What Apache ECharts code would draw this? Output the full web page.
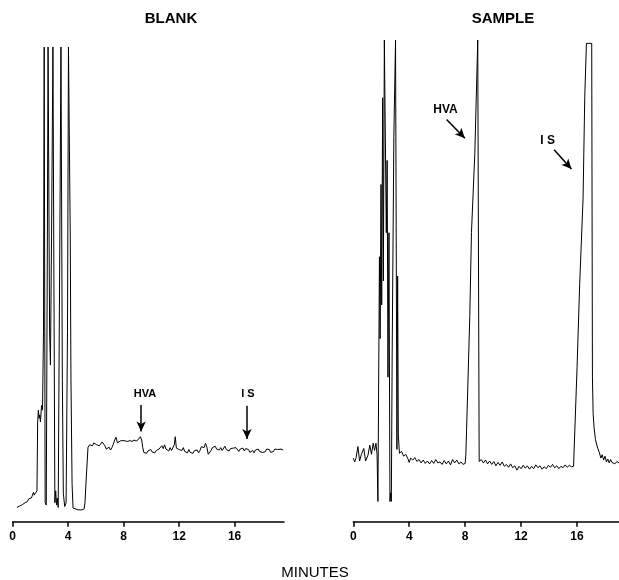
<!DOCTYPE html>
<html>
<head>
<meta charset="utf-8">
<script src="https://cdn.jsdelivr.net/npm/echarts@6/dist/echarts.min.js"></script>
<style>
html,body{margin:0;padding:0;background:#fff;}
#chart{width:619px;height:580px;}
</style>
</head>
<body>
<div id="chart"></div>
<script>
// ---- data ----
const panelTitles = ['BLANK', 'SAMPLE'];
const axisName = 'MINUTES';
const tickValues = [0, 4, 8, 12, 16];

const blankMinutes = [
  0.3,0.5,0.7,0.9,1.05,1.15,1.25,1.35,1.45,1.5,1.55,1.65,1.75,
  1.8,1.85,1.9,1.95,2.0,2.08,2.15,2.22,2.27,2.3,2.34,2.42,2.5,2.55,2.6,2.66,2.72,2.8,2.9,2.98,
  3.04,3.1,3.16,3.22,3.28,3.4,3.48,3.53,3.58,3.65,3.75,3.85,3.95,4.02,4.1,4.15,4.2,4.28,4.35,4.45,
  4.7,5.0,5.15,5.21,5.3,5.43,
  5.55,5.65,5.75,5.85,5.95,6.05,6.15,6.25,6.35,6.45,6.55,6.65,6.75,6.85,6.95,7.05,7.15,7.25,7.35,7.45,
  7.55,7.65,7.75,7.85,7.95,8.05,8.15,8.3,8.45,8.6,8.75,8.9,9.05,9.2,9.3,9.38,9.45,9.55,9.65,9.75,
  9.85,9.95,10.05,10.15,10.25,10.35,10.45,10.55,10.65,10.75,10.85,10.95,11.05,11.15,11.25,11.35,
  11.45,11.55,11.65,11.72,11.8,11.9,12.0,12.1,12.2,12.3,12.4,12.5,12.6,12.7,12.8,12.9,13.0,13.1,
  13.2,13.3,13.4,13.5,13.6,13.7,13.8,13.9,14.0,14.1,14.2,14.3,14.4,14.5,14.6,14.7,14.8,14.9,15.0,
  15.1,15.2,15.3,15.4,15.5,15.6,15.7,15.8,15.9,16.0,16.1,16.2,16.3,16.4,16.5,16.6,16.7,16.8,16.9,
  17.0,17.1,17.2,17.3,17.4,17.5,17.6,17.7,17.8,17.9,18.0,18.1,18.2,18.3,18.4,18.5,18.6,18.7,18.8,
  18.9,19.0,19.1,19.2,19.35,19.5
];
const blankSignal = [
  3.0,3.3,3.6,4.0,4.2,4.8,4.5,5.0,5.4,6.2,5.6,5.8,6.5,
  21,23.5,21.8,22.5,21.0,24.5,23.5,40,100,100,4,3.5,60,100,100,40,33,60,100,100,
  4,6.5,3.5,5,3,60,100,100,30,6,3.2,4,40,100,100,60,30,8,2.9,2.6,
  2.5,2.5,2.7,4,9,15.7,
  16.2,16.4,16.0,16.6,16.9,16.2,16.5,16.0,16.3,16.8,16.4,16.0,15.3,15.2,15.7,15.1,15.6,16.3,17.2,17.8,
  16.6,16.9,17.0,16.8,17.1,16.8,17.0,16.9,17.1,16.9,17.2,17.0,17.3,17.9,17.2,15.6,14.6,15.0,14.4,14.9,
  14.6,15.2,14.7,15.1,14.5,15.0,14.8,15.3,14.9,16.0,15.4,16.2,15.3,15.5,14.9,15.6,
  15.0,15.4,16.2,17.9,15.5,15.8,15.2,15.4,15.0,15.6,14.8,15.1,14.5,15.2,14.6,14.9,14.4,15.0,
  14.7,15.1,14.5,15.0,15.8,16.2,15.6,16.5,15.7,14.2,14.0,15.0,15.6,15.2,15.9,15.3,15.7,15.1,15.6,
  15.0,15.4,15.9,15.2,15.6,14.9,15.4,15.0,15.5,15.1,15.6,15.2,14.8,15.3,15.0,15.5,14.9,15.4,15.7,
  15.2,14.6,14.2,15.0,14.5,15.1,14.7,15.3,14.8,15.2,14.6,15.0,14.7,15.3,14.9,15.2,14.6,15.0,14.8,
  15.3,14.9,15.2,15.0,15.3,15.1
];

const sampleMinutes = [
  0,0.1,0.2,0.33,0.45,0.58,0.75,0.88,1.05,1.18,1.3,1.42,1.52,1.62,1.7,
  1.76,1.8,1.87,1.92,1.98,2.03,2.1,2.15,2.22,2.3,2.36,2.42,2.48,2.55,2.62,2.68,2.72,2.78,2.9,3.02,3.08,3.12,3.17,3.22,
  3.3,3.45,3.6,3.75,3.9,4.0,4.1,4.25,4.4,4.55,4.7,4.85,5.0,5.15,5.3,5.45,5.6,5.75,5.9,6.05,6.2,6.35,6.5,
  6.65,6.8,6.95,7.1,7.25,7.4,7.55,7.7,7.85,8.0,
  8.05,8.1,8.33,8.45,8.69,8.9,8.95,9.0,
  9.15,9.3,9.45,9.6,9.75,9.9,10.05,10.2,10.35,10.5,10.65,10.8,10.95,11.1,11.25,11.4,11.55,11.7,11.85,
  12.0,12.15,12.3,12.45,12.6,12.75,12.9,13.05,13.2,13.35,13.5,13.65,13.8,13.95,14.1,14.25,14.4,14.55,
  14.7,14.85,15.0,15.15,15.3,15.45,15.6,15.75,
  16.0,16.19,16.43,16.55,16.67,17.05,17.1,17.15,17.22,17.32,17.45,17.6,
  17.7,17.8,17.9,18.0,18.1,18.2,18.3,18.4,18.5,18.6,18.7,18.85,19.0
];
const sampleSignal = [
  13.2,12.4,13.3,15.6,12.6,14.0,15.2,12.6,13.8,15.9,14.0,16.3,14.8,16.3,14.0,
  4.2,4.2,55,38,70,45,88,50,100,100,60,75,30,60,4.2,6,4.2,35,80,100,100,15,51,18,
  14.2,14.6,13.6,14.0,13.1,12.3,13.2,12.8,13.3,12.5,12.9,12.2,12.8,12.1,12.6,12.0,12.7,12.1,12.9,12.2,12.4,11.9,12.7,
  12.0,12.6,11.8,12.9,12.2,12.8,12.0,12.4,11.9,12.1,
  14,19,42.6,60,76.5,100,100,12.5,
  12.9,12.2,12.8,12.0,12.6,11.9,12.5,11.6,12.3,11.7,12.4,11.5,11.9,11.3,12.0,11.2,11.6,10.7,11.5,
  11.0,11.7,11.1,11.6,10.9,11.5,11.0,11.8,11.2,11.6,10.9,11.4,11.0,11.7,11.3,11.9,11.2,11.6,
  11.0,11.5,11.2,11.8,11.3,11.7,11.4,11.5,
  32,49.5,67,88,99.3,99.3,30,22.5,19.5,17.0,15.5,14.3,
  13.2,13.9,12.8,13.6,12.4,13.0,12.2,12.9,12.3,12.7,12.0,12.5,12.2
];

// annotation texts
const blankLabels = ['HVA', 'I S'];
const blankLabelMin = [9.54, 16.96];
const blankArrowMin = [9.26, 16.89];
const sampleLabels = ['HVA', 'I S'];

// ---- chart ----
const zip = (a, b) => a.map((v, i) => [v, b[i]]);
const font = '"Liberation Sans", Arial, sans-serif';
const chart = echarts.init(document.getElementById('chart'), null, {renderer: 'canvas'});

function xAxisCfg(gridIndex, max) {
  return {
    type: 'value', gridIndex, min: 0, max,
    axisLine: {show: true, lineStyle: {color: '#000', width: 1.5}},
    axisTick: {show: true, customValues: tickValues, length: 5, inside: false, lineStyle: {color: '#000', width: 1.5}},
    axisLabel: {show: true, customValues: tickValues, margin: 9, color: '#000', fontSize: 12, fontWeight: 'bold', fontFamily: font},
    splitLine: {show: false}
  };
}
function yAxisCfg(gridIndex) {
  return {type: 'value', gridIndex, min: 0, max: 100, show: false, splitLine: {show: false}};
}
const arrowLine = {color: '#000', width: 1.5, type: 'solid'};
const labelStyle = (size) => ({show: true, position: 'inside', color: '#000', fontSize: size, fontWeight: 'bold', fontFamily: font, formatter: '{b}'});
const titleStyle = (weight) => ({fontSize: 15, fontWeight: weight, fontFamily: font, color: '#000'});

chart.setOption({
  animation: false,
  backgroundColor: '#fff',
  title: [
    {text: panelTitles[0], left: 171, top: 11, padding: 0, textAlign: 'center', textStyle: titleStyle('bold')},
    {text: panelTitles[1], left: 503, top: 11, padding: 0, textAlign: 'center', textStyle: titleStyle('bold')},
    {text: axisName, left: 315, top: 565, padding: 0, textAlign: 'center', textStyle: titleStyle('normal')}
  ],
  grid: [
    {left: 12.7, width: 271.3, top: 47, bottom: 58.3},
    {left: 353.3, right: 0, top: 40, bottom: 58.3}
  ],
  xAxis: [xAxisCfg(0, 19.56), xAxisCfg(1, 19)],
  yAxis: [yAxisCfg(0), yAxisCfg(1)],
  series: [
    {
      type: 'line', xAxisIndex: 0, yAxisIndex: 0, data: zip(blankMinutes, blankSignal),
      showSymbol: false, symbol: 'none', lineStyle: {color: '#000', width: 1}, clip: true,
      markLine: {
        silent: true, symbol: ['none', 'arrow'], symbolSize: [7, 10], label: {show: false},
        lineStyle: arrowLine,
        data: [
          [{coord: [blankArrowMin[0], 24.6]}, {coord: [blankArrowMin[0], 19.0]}],
          [{coord: [blankArrowMin[1], 24.4]}, {coord: [blankArrowMin[1], 17.4]}]
        ]
      },
      markPoint: {
        silent: true, symbol: 'rect', symbolSize: 1, itemStyle: {color: 'rgba(0,0,0,0)'},
        label: labelStyle(11),
        data: [
          {name: blankLabels[0], coord: [blankLabelMin[0], 26.9]},
          {name: blankLabels[1], coord: [blankLabelMin[1], 26.9]}
        ]
      }
    },
    {
      type: 'line', xAxisIndex: 1, yAxisIndex: 1, data: zip(sampleMinutes, sampleSignal),
      showSymbol: false, symbol: 'none', lineStyle: {color: '#000', width: 1}, clip: true,
      markLine: {
        silent: true, symbol: ['none', 'arrow'], symbolSize: [7, 10], label: {show: false},
        lineStyle: arrowLine,
        data: [
          [{coord: [6.67, 83.5]}, {coord: [7.98, 79.6]}],
          [{coord: [14.36, 77.2]}, {coord: [15.6, 73.2]}]
        ]
      },
      markPoint: {
        silent: true, symbol: 'rect', symbolSize: 1, itemStyle: {color: 'rgba(0,0,0,0)'},
        label: labelStyle(12),
        data: [
          {name: sampleLabels[0], coord: [6.59, 85.5]},
          {name: sampleLabels[1], coord: [13.9, 79.2]}
        ]
      }
    }
  ]
});
</script>
</body>
</html>
